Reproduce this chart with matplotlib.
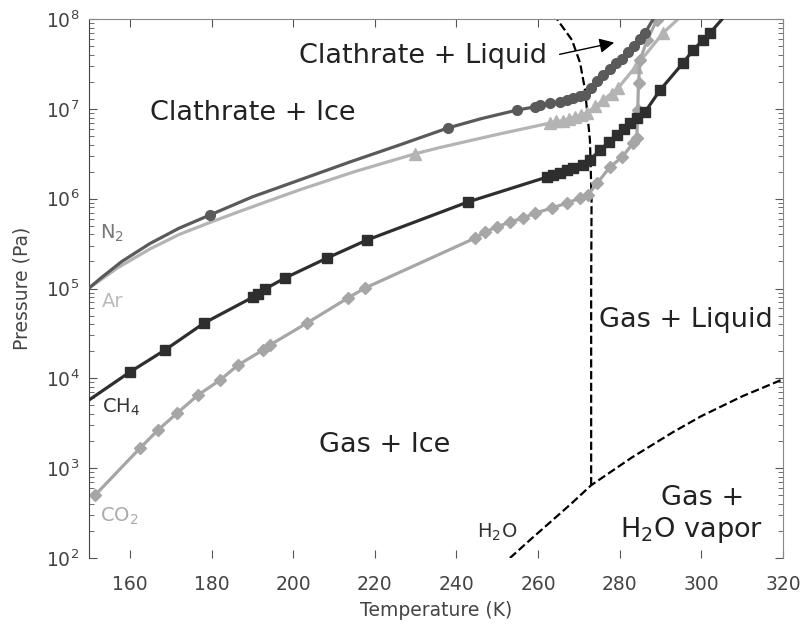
import numpy as np
import matplotlib
matplotlib.use('Agg')
import matplotlib.pyplot as plt
import matplotlib.ticker as ticker

# Clathrate dissociation curves, pressure given as log10(P / Pa)

# N2 : smooth curve + circles
n2_T = [150, 153, 158, 164.9, 172, 179.6, 190, 201.7, 214, 226.2, 237.9, 246, 254.9,
        259, 263, 267, 271.5, 275.2, 280.1, 286.2, 288.2]
n2_logP = [5.005, 5.12, 5.30, 5.50, 5.67, 5.818, 6.02, 6.21, 6.41, 6.60, 6.787, 6.89, 6.987,
           7.02, 7.05, 7.09, 7.154, 7.354, 7.543, 7.844, 8.0]
n2_mT = [179.6, 237.9, 254.9, 259.2, 260.5, 263, 265.4, 267.1, 268.6, 270.3, 271.5,
         273, 274.5, 276, 277.5, 279, 280.5, 282, 283.5, 285, 286.2]
n2_mlogP = [5.818, 6.787, 6.987, 7.02, 7.04, 7.06, 7.08, 7.10, 7.12, 7.14, 7.154,
            7.23, 7.31, 7.38, 7.44, 7.51, 7.56, 7.63, 7.70, 7.78, 7.844]

# Ar : smooth curve + triangles
ar_T = [150, 157, 164.9, 172, 179.6, 187.0, 194, 201.7, 215, 229.9, 236.0, 250, 262.9,
        266, 269, 272.0, 279.6, 285, 290.6, 294.3]
ar_logP = [5.005, 5.23, 5.44, 5.60, 5.735, 5.86, 5.975, 6.10, 6.30, 6.50, 6.57, 6.715, 6.842,
           6.87, 6.91, 6.953, 7.232, 7.53, 7.844, 8.0]
ar_mT = [229.9, 262.9, 264.5, 266, 267.5, 269, 270.5, 272, 274, 276, 278, 279.6, 284, 290.6]
ar_mlogP = [6.50, 6.842, 6.86, 6.87, 6.89, 6.91, 6.93, 6.953, 7.03, 7.10, 7.17, 7.232, 7.47, 7.844]

# CH4 : squares joined by straight segments
ch4_T = [150, 160.0, 168.6, 178.2, 190.2, 191.4, 193.1, 198.0, 208.3, 218.1, 242.8,
         262.2, 263.7, 265.4, 267.1, 268.6, 271.0, 272.7, 275.2, 277.3, 279.3, 281, 282.5,
         284.3, 286.2, 289.9, 295.5, 298.0, 300.4, 302.1, 305.3]
ch4_logP = [3.759, 4.070, 4.315, 4.616, 4.905, 4.939, 4.994, 5.117, 5.339, 5.540, 5.963,
            6.241, 6.263, 6.286, 6.319, 6.341, 6.375, 6.430, 6.542, 6.63, 6.709, 6.78, 6.842,
            6.90, 6.965, 7.210, 7.510, 7.655, 7.766, 7.844, 8.01]

# CO2 : diamonds joined by straight segments
co2_T = [151.5, 162.5, 166.9, 171.6, 176.7, 182.1, 186.5, 192.6, 194.3, 203.4, 213.4, 217.6,
         244.6, 247.0, 249.9, 253.1, 256.3, 259.3, 263.4, 267.1, 270.3, 272.2, 274.5, 277.6,
         280.6, 283.3, 284.2, 284.4, 284.6, 285.0, 286.7, 289.1]
co2_logP = [2.701, 3.224, 3.425, 3.614, 3.814, 3.981, 4.148, 4.315, 4.371, 4.616, 4.894, 5.005,
            5.562, 5.629, 5.685, 5.740, 5.785, 5.840, 5.896, 5.952, 6.007, 6.041, 6.174, 6.352,
            6.464, 6.620, 6.675, 6.987, 7.288, 7.544, 7.766, 7.989]

# water phase boundaries
melt_T = [273.0, 273.0, 273.1, 272.7, 271.5, 270.3, 268.3, 266.5, 264.6]
melt_logP = [2.81, 5.0, 5.985, 6.653, 7.21, 7.51, 7.766, 7.88, 8.0]
vap_T = [253.1, 258, 263, 268, 273.0, 283, 293, 300, 310, 320]
vap_logP = [2.0, 2.20, 2.40, 2.60, 2.81, 3.12, 3.40, 3.58, 3.80, 3.99]

x_ticks = [160, 180, 200, 220, 240, 260, 280, 300, 320]
y_ticks = [1e2, 1e3, 1e4, 1e5, 1e6, 1e7, 1e8]

c_n2, c_ar, c_ch4, c_co2 = '#5a5a5a', '#b4b4b4', '#2e2e2e', '#a6a6a6'

def P(v):
    return 10 ** np.asarray(v)

fig = plt.figure(figsize=(8.05, 6.27), dpi=100)
ax = fig.add_axes([0.1106, 0.110, 0.8621, 0.8597])

ax.plot(melt_T, P(melt_logP), '--', color='k', lw=1.6, zorder=1)
ax.plot(vap_T, P(vap_logP), '--', color='k', lw=1.6, zorder=1)

ax.plot(n2_T, P(n2_logP), '-', color=c_n2, lw=2.3, zorder=3)
ax.plot(n2_mT, P(n2_mlogP), 'o', color=c_n2, ms=7, zorder=3)
ax.plot(ar_T, P(ar_logP), '-', color=c_ar, lw=2.3, zorder=2)
ax.plot(ar_mT, P(ar_mlogP), '^', color=c_ar, ms=8, zorder=2)
ax.plot(ch4_T, P(ch4_logP), '-', color=c_ch4, lw=2.3, zorder=4)
ax.plot(ch4_T[1:-1], P(ch4_logP[1:-1]), 's', color=c_ch4, ms=6.5, zorder=4)
ax.plot(co2_T, P(co2_logP), '-D', color=c_co2, lw=2.3, ms=6.5, zorder=2)

ax.set_yscale('log')
ax.set_xlim(150, 320)
ax.set_ylim(1e2, 1e8)
ax.set_xticks(x_ticks)
ax.set_yticks(y_ticks)
ax.yaxis.set_minor_locator(ticker.LogLocator(base=10, subs=np.arange(2, 10) * 1.0))
ax.yaxis.set_minor_formatter(ticker.NullFormatter())

ax.spines['bottom'].set_visible(False)
ax.spines['left'].set_color('#444444')
ax.spines['top'].set_color('#888888')
ax.spines['right'].set_color('#888888')
ax.tick_params(which='both', direction='in', top=True, right=True, colors='#555555',
               labelcolor='#444444', labelsize=13.5)
ax.tick_params(which='major', length=6)
ax.tick_params(which='minor', length=3.5)
ax.tick_params(axis='x', which='major', pad=12)
ax.tick_params(axis='y', which='major', pad=7)
ax.xaxis.set_minor_locator(ticker.NullLocator())

ax.set_xlabel('Temperature (K)', fontsize=13.5, color='#444444', labelpad=5)
ax.set_ylabel('Pressure (Pa)', fontsize=13.5, color='#444444', labelpad=10)

# species labels
ax.text(152.7, 10**5.56, 'N$_2$', fontsize=14, color='#777777')
ax.text(153.2, 10**4.79, 'Ar', fontsize=14, color='#bbbbbb')
ax.text(153.2, 10**3.62, 'CH$_4$', fontsize=14, color='#333333')
ax.text(152.7, 10**2.40, 'CO$_2$', fontsize=14, color='#aaaaaa')
ax.text(245.0, 10**2.23, 'H$_2$O', fontsize=14, color='#333333')

# region labels
big = dict(fontsize=19.5, color='#222222', ha='center')
ax.text(190.0, 10**6.876, 'Clathrate + Ice', **big)
ax.text(231.9, 10**7.51, 'Clathrate + Liquid', **big)
ax.text(296.3, 10**4.57, 'Gas + Liquid', **big)
ax.text(222.5, 10**3.18, 'Gas + Ice', **big)
ax.text(300.2, 10**2.59, 'Gas +', **big)
ax.text(297.5, 10**2.23, 'H$_2$O vapor', **big)

ax.annotate('', xy=(279.3, 10**7.744), xytext=(264.6, 10**7.60),
            arrowprops=dict(arrowstyle='-|>', color='k', lw=1.0, mutation_scale=22))

plt.savefig('out.png', dpi=100)
